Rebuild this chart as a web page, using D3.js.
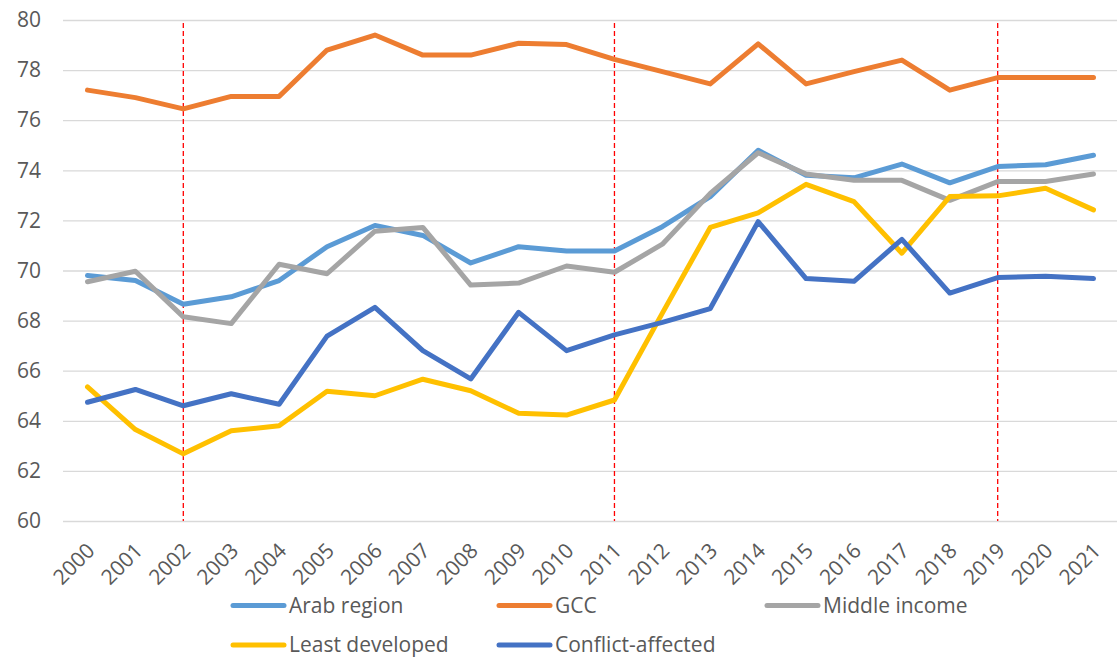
<!DOCTYPE html>
<html lang="en">
<head>
    <meta charset="UTF-8">
    <title>life-expectancy-lines</title>
    <script src="https://cdn.jsdelivr.net/npm/d3@7"></script>
    <style>
        body { margin: 0; background: #fff; }
        text { font-family: "Open Sans", sans-serif; fill: #595959; }
    </style>
</head>
<body>
    <svg width="1119" height="659" id="mainsvg"></svg>
    <script>
        // data
        const years = ['2000', '2001', '2002', '2003', '2004', '2005', '2006', '2007', '2008', '2009', '2010',
            '2011', '2012', '2013', '2014', '2015', '2016', '2017', '2018', '2019', '2020', '2021'];
        const arabRegion = [69.8, 69.6, 68.65, 68.95, 69.6, 70.95, 71.8, 71.4, 70.3, 70.95, 70.78,
            70.78, 71.75, 72.95, 74.8, 73.8, 73.7, 74.25, 73.5, 74.15, 74.22, 74.6];
        const gcc = [77.2, 76.9, 76.45, 76.95, 76.95, 78.8, 79.4, 78.6, 78.6, 79.07, 79.02,
            78.43, 77.94, 77.45, 79.05, 77.45, 77.94, 78.4, 77.2, 77.7, 77.7, 77.7];
        const middleIncome = [69.55, 69.97, 68.15, 67.88, 70.25, 69.87, 71.57, 71.72, 69.42, 69.5, 70.18,
            69.93, 71.05, 73.08, 74.7, 73.85, 73.6, 73.6, 72.8, 73.55, 73.55, 73.85];
        const leastDeveloped = [65.35, 63.65, 62.68, 63.6, 63.8, 65.18, 65.0, 65.66, 65.2, 64.3, 64.23,
            64.83, 68.3, 71.72, 72.3, 73.44, 72.75, 70.69, 72.95, 72.98, 73.28, 72.42];
        const conflictAffected = [64.74, 65.25, 64.6, 65.08, 64.66, 67.38, 68.53, 66.8, 65.67, 68.33, 66.8,
            67.43, 67.93, 68.48, 71.95, 69.68, 69.57, 71.24, 69.1, 69.72, 69.77, 69.68];
        const seriesNames = ['Arab region', 'GCC', 'Middle income', 'Least developed', 'Conflict-affected'];
        const seriesValues = [arabRegion, gcc, middleIncome, leastDeveloped, conflictAffected];
        const yTicks = [60, 62, 64, 66, 68, 70, 72, 74, 76, 78, 80];
        const markerYears = ['2002', '2011', '2019'];

        const colors = ['#5B9BD5', '#ED7D31', '#A5A5A5', '#FFC000', '#4472C4'];

        const svg = d3.select('#mainsvg');
        const g = svg.append('g').attr('id', 'maingroup');

        const xScale = d3.scalePoint().domain(years).range([87.5, 1093.5]);
        const yScale = d3.scaleLinear().domain([60, 80]).range([521, 20]);

        // gridlines + y labels
        const yAxis = d3.axisLeft(yScale).tickValues(yTicks).tickSize(-(1117 - 63)).tickPadding(22);
        const ya = g.append('g').attr('id', 'yaxis').attr('transform', 'translate(63,0)').call(yAxis);
        ya.select('.domain').remove();
        ya.selectAll('.tick line').attr('stroke', '#d9d9d9').attr('stroke-width', 1.3);
        ya.selectAll('.tick text').attr('font-size', 21).attr('fill', '#595959');

        // x labels
        const xAxis = d3.axisBottom(xScale).tickSize(0).tickPadding(0);
        const xa = g.append('g').attr('id', 'xaxis').attr('transform', 'translate(0,521)').call(xAxis);
        xa.select('.domain').remove();
        xa.selectAll('.tick text')
            .attr('font-size', 21).attr('fill', '#595959')
            .attr('text-anchor', 'end')
            .attr('dy', 0)
            .attr('transform', 'translate(8,31) rotate(-45)');

        // red dashed markers
        g.selectAll('.marker').data(markerYears).join('line')
            .attr('class', 'marker')
            .attr('x1', d => xScale(d)).attr('x2', d => xScale(d))
            .attr('y1', 23).attr('y2', yScale(60))
            .attr('stroke', '#FF0000').attr('stroke-width', 1.3)
            .attr('stroke-dasharray', '5,3');

        const line = d3.line().x((d, i) => xScale(years[i])).y(d => yScale(d));

        g.selectAll('.series').data(seriesValues).join('path')
            .attr('class', 'series')
            .attr('d', line)
            .attr('fill', 'none')
            .attr('stroke', (d, i) => colors[i])
            .attr('stroke-width', 5)
            .attr('stroke-linejoin', 'round')
            .attr('stroke-linecap', 'round');

        // legend
        const legendPos = [[231, 605.5], [497, 605.5], [765, 605.5], [231, 645], [497, 645]];
        const lg = g.selectAll('.legend').data(seriesNames).join('g')
            .attr('class', 'legend')
            .attr('transform', (d, i) => `translate(${legendPos[i][0]},${legendPos[i][1]})`);
        lg.append('line')
            .attr('x1', 2).attr('x2', 53).attr('y1', 0).attr('y2', 0)
            .attr('stroke', (d, i) => colors[i]).attr('stroke-width', 5)
            .attr('stroke-linecap', 'round');
        lg.append('text')
            .attr('x', 58).attr('y', 0).attr('dy', '0.35em')
            .attr('font-size', 21)
            .text(d => d);
    </script>
</body>
</html>
